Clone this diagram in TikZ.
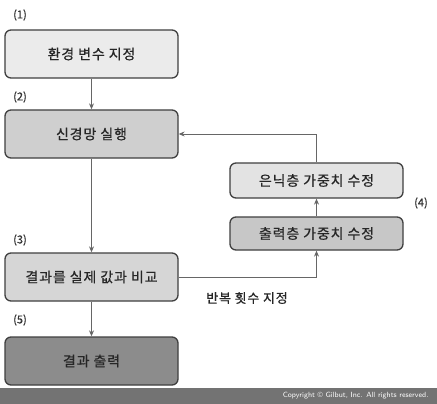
\documentclass[tikz,border=0pt]{standalone}
\usepackage{fontspec}
\setmainfont{Noto Sans CJK KR}
\usetikzlibrary{arrows.meta}
\begin{document}
\begin{tikzpicture}[x=1pt,y=-1pt,
  box/.style={draw=black!75, line width=1.3pt, rounded corners=6pt, inner sep=0pt, text=black!85, font=\fontsize{14}{16}\selectfont\addfontfeature{LetterSpace=6,FakeBold=0.6}},
  conn/.style={draw=black!60, line width=0.9pt, -{Stealth[length=6pt,width=5pt]}},
  num/.style={text=black!80, font=\fontsize{11}{13}\selectfont\addfontfeature{FakeBold=0.6}}]
\useasboundingbox (0,0) rectangle (437,404);
\fill[white] (0,0) rectangle (437,404);
\node[box, fill=black!8, minimum width=173pt, minimum height=48pt] (b1) at (91.5,54) {환경 변수 지정};
\node[box, fill=black!19, minimum width=173pt, minimum height=48pt] (b2) at (91.5,134) {신경망 실행};
\node[box, fill=black!16, minimum width=173pt, minimum height=48pt] (b3) at (91.5,277) {결과를 실제 값과 비교};
\node[box, fill=black!45, minimum width=173pt, minimum height=48pt] (b5) at (91.5,361) {결과 출력};
\node[box, fill=black!11, minimum width=173pt, minimum height=35pt] (hid) at (316.5,180.5) {은닉층 가중치 수정};
\node[box, fill=black!22, minimum width=173pt, minimum height=33pt] (out) at (316.5,233.5) {출력층 가중치 수정};
\node[num] (n1) at (20,15) {(1)};
\node[num] (n2) at (20,97) {(2)};
\node[num] (n3) at (20,240) {(3)};
\node[num] (n5) at (20,320) {(5)};
\node[num] (n4) at (421,203) {(4)};
\node[text=black!85, font=\fontsize{13}{15}\selectfont\addfontfeature{LetterSpace=6,FakeBold=0.6}] (rep) at (247,298) {반복 횟수 지정};
\coordinate (c1) at (316.5,277);
\coordinate (c2) at (316.5,134);
\draw[conn] (b1) -- (b2);
\draw[conn] (b2) -- (b3);
\draw[conn] (b3) -- (b5);
\draw[conn] (b3.east) -- (c1) -- (out.south);
\draw[conn] (out) -- (hid);
\draw[conn] (hid.north) -- (c2) -- (b2.east);
\fill[black!55] (0,388) rectangle (437,404);
\node[text=white, font=\fontsize{7.5}{9}\selectfont\sffamily, anchor=east] (copy) at (432,396) {Copyright © Gilbut, Inc. All rights reserved.};
\end{tikzpicture}
\end{document}
